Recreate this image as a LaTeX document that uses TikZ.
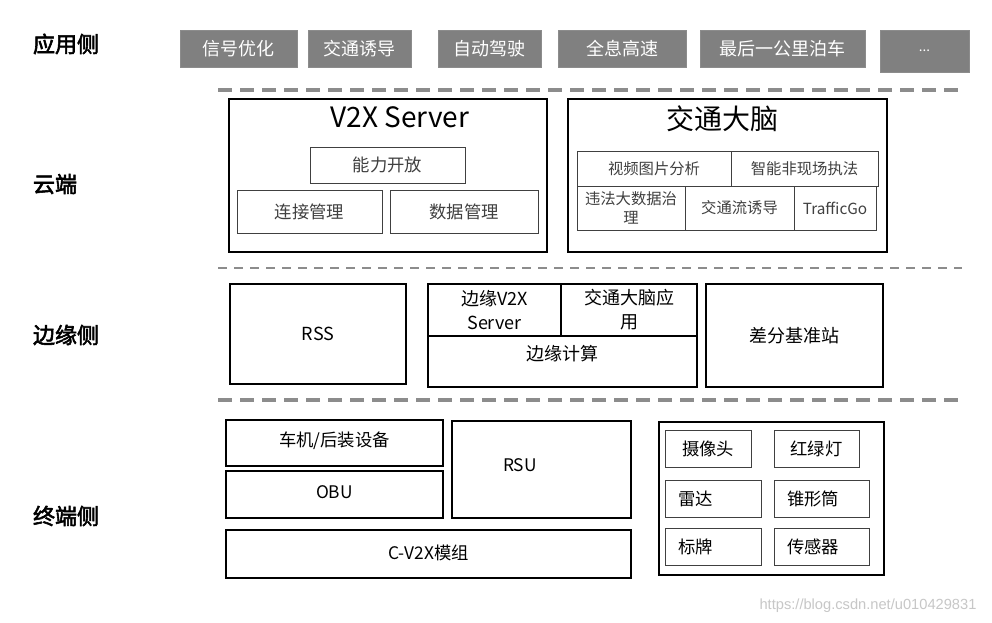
\documentclass[tikz,border=0pt]{standalone}
\usepackage{fontspec}
\setmainfont{Noto Sans CJK SC}[AutoFakeBold=2.5]
\newfontfamily\wmfont{Liberation Sans}
\begin{document}
\begin{tikzpicture}[x=0.75pt,y=-0.75pt,
  bx/.style={draw=black!75,line width=0.7pt,inner sep=0pt,outer sep=0pt,text=black!75,font=\fontsize{13}{15}\selectfont,align=center},
  outer/.style={draw=black,line width=1.3pt,inner sep=0pt,outer sep=0pt},
  app/.style={fill=black!50,draw=black!45,line width=0.5pt,inner sep=0pt,outer sep=0pt,text=white,font=\fontsize{13.5}{15}\selectfont},
  lbl/.style={font=\fontsize{16.5}{18}\selectfont\bfseries,text=black},
  sm/.style={font=\fontsize{11.5}{14}\selectfont},
  two/.style={font=\fontsize{13.5}{18}\selectfont},
  sep/.style={draw=black!45,dash pattern=on 10.5pt off 6pt},
  title/.style={font=\fontsize{21}{24}\selectfont,text=black},
  lft/.style={text=black,align=left}]
\newcommand\Bx[7][]{%
  \pgfmathsetmacro\cx{(#3+#5)/2}\pgfmathsetmacro\cy{(#4+#6)/2}%
  \pgfmathsetmacro\ww{(#5-#3)*0.75}\pgfmathsetmacro\hh{(#6-#4)*0.75}%
  \node[bx,minimum width=\ww pt,minimum height=\hh pt,#1] (#2) at (\cx,\cy) {#7};}
\useasboundingbox[fill=white] (0,0) rectangle (992,623);
% left labels
\node[lbl] (lapp) at (66,44) {应用侧};
\node[lbl] (lcloud) at (55,184) {云端};
\node[lbl] (ledge) at (66,335) {边缘侧};
\node[lbl] (lterm) at (66,516) {终端侧};
% app boxes
\Bx[app]{a1}{180}{30}{297}{67}{信号优化}
\Bx[app]{a2}{308}{30}{411}{67}{交通诱导}
\Bx[app]{a3}{438}{30}{541}{67}{自动驾驶}
\Bx[app]{a4}{558}{30}{686}{67}{全息高速}
\Bx[app]{a5}{700}{30}{865}{67}{最后一公里泊车}
\Bx[app]{a6}{880}{30}{969}{72}{\fontsize{10}{12}\selectfont ...}
% separators
\coordinate (s1a) at (218,90); \coordinate (s1b) at (962,90);
\coordinate (s2a) at (218,268); \coordinate (s2b) at (962,268);
\coordinate (s3a) at (218,400); \coordinate (s3b) at (962,400);
\draw[sep,line width=3pt] (s1a) -- (s1b);
\draw[sep,line width=1.6pt,dash pattern=on 7pt off 5pt] (s2a) -- (s2b);
\draw[sep,line width=3pt] (s3a) -- (s3b);
% cloud: V2X server
\Bx[outer]{v2x}{229}{99}{547}{252}{}
\node[title] (v2xt) at (400,117) {V2X Server};
\Bx{nl}{310}{147}{465}{183}{能力开放}
\Bx{lj}{237}{190}{382}{233}{连接管理}
\Bx{sj}{390}{190}{538}{233}{数据管理}
% cloud: traffic brain
\Bx[outer]{brain}{568}{99}{887}{252}{}
\node[title] (braint) at (722,119) {交通大脑};
\Bx[sm]{sp}{577}{151}{731}{186}{视频图片分析}
\Bx[sm]{zn}{731}{151}{878}{186}{智能非现场执法}
\Bx[sm]{wf}{577}{186}{685}{230}{违法大数据治\\理}
\Bx[sm]{jt}{685}{186}{794}{230}{交通流诱导}
\Bx[sm]{tg}{794}{186}{876}{230}{TrafficGo}
% edge
\Bx[outer,text=black,font=\fontsize{13.5}{15}\selectfont]{rss}{230}{284}{406}{384}{RSS}
\Bx[outer]{egrp}{428}{284}{697}{387}{}
\Bx[outer,two,text=black]{ev}{428}{284}{561}{336}{边缘V2X\\Server}
\Bx[outer,two,text=black]{eb}{561}{284}{697}{336}{交通大脑应\\用}
\Bx[outer]{ec}{428}{336}{697}{387}{}
\node[bx,draw=none,text=black,font=\fontsize{13.5}{15}\selectfont] (ect) at (562,354) {边缘计算};
\Bx[outer,text=black,font=\fontsize{13.5}{15}\selectfont]{cf}{706}{284}{883}{387}{差分基准站}
% terminal
\Bx[outer,line width=1pt,text=black]{cj}{226}{420}{443}{466}{\raisebox{5pt}{车机/后装设备}}
\Bx[outer,line width=1pt,text=black]{obu}{226}{471}{443}{518}{\raisebox{4pt}{OBU}}
\Bx[outer,line width=1pt]{rsu}{452}{421}{631}{518}{}
\node[bx,draw=none,text=black] (rsut) at (520,465) {RSU};
\Bx[outer,line width=1pt,text=black]{cv}{226}{530}{631}{578}{\raisebox{3pt}{C-V2X模组}}
\Bx[outer,line width=1.1pt]{sens}{659}{422}{884}{575}{}
\Bx[text=black]{sxt}{665}{430}{751}{467}{摄像头}
\Bx[text=black]{hld}{774}{430}{859}{467}{红绿灯}
\Bx[lft,text width=52pt]{ld}{665}{480}{761}{517}{雷达}
\Bx[lft,text width=51.5pt]{zxt}{774}{480}{869}{517}{锥形筒}
\Bx[lft,text width=52pt]{bp}{665}{528}{761}{565}{标牌}
\Bx[lft,text width=51.5pt]{cgq}{774}{528}{869}{565}{传感器}
% watermark
\node[text=black!22,font=\wmfont\fontsize{11}{12}\selectfont] (wm) at (868,606) {https://blog.csdn.net/u010429831};
\end{tikzpicture}
\end{document}
